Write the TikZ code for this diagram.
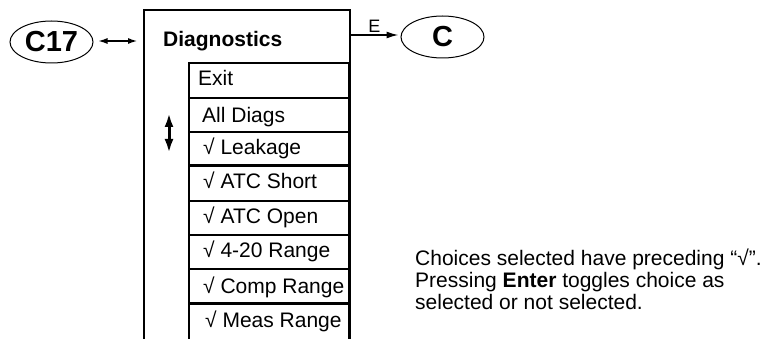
\documentclass[tikz,border=0pt]{standalone}
\usepackage{fontspec}
\setmainfont{Liberation Sans}
\usetikzlibrary{arrows.meta,shapes.geometric}
\begin{document}
\begin{tikzpicture}[x=1pt,y=-1pt,
  txt/.style={anchor=base west,inner sep=0pt,font=\fontsize{21}{22}\selectfont},
  oval/.style={draw,ellipse,line width=1pt,minimum width=83pt,minimum height=42pt,inner sep=0pt,font=\fontsize{29}{30}\selectfont\bfseries},
  boxline/.style={line width=2pt},
  thickline/.style={line width=3pt}]
\useasboundingbox (0,0) rectangle (767,339);
% ovals
\node[oval] (c17) at (51.5,42) {C17};
\node[oval] (c) at (442.5,37) {C};
% outer box
\coordinate (obl) at (144,339);
\coordinate (otl) at (144,10);
\coordinate (otr) at (350,10);
\coordinate (obr) at (350,339);
\draw[boxline] (obl) -- (otl) -- (otr) -- (obr);
\coordinate (inl) at (144,41);
\coordinate (outr) at (350,35);
% connectors
\draw[line width=2pt,{Latex[length=10pt,width=6pt]}-{Latex[length=10pt,width=6pt]}] ([xshift=4pt]c17.east |- inl) -- ([xshift=-6pt]inl);
\draw[line width=1.5pt,-{Latex[length=12pt,width=7pt]}] (outr) -- ([xshift=-2pt]c.west |- outr) node[pos=0.5,above=2pt,inner sep=0pt,font=\fontsize{18}{18}\selectfont] (elabel) {E};
% header
\node[txt,font=\fontsize{21}{22}\selectfont\bfseries] (diag) at (163,47) {Diagnostics};
% item column
\draw[boxline] (189,339) -- (189,63) -- (349,63) -- (349,339);
\draw[boxline] (189,98) -- (349,98);
\draw[boxline] (189,132) -- (349,132);
\draw[thickline] (189,165) -- (349,165);
\draw[boxline] (189,201) -- (349,201);
\draw[boxline] (189,235) -- (349,235);
\draw[boxline] (189,269) -- (349,269);
\draw[thickline] (189,303) -- (349,303);
\node[txt] (exit) at (198,86) {Exit};
\node[txt] (all) at (202,123) {All Diags};
\node[txt] (leak) at (203,155) {√ Leakage};
\node[txt] (short) at (203,188) {√ ATC Short};
\node[txt] (open) at (203,223) {√ ATC Open};
\node[txt] (range) at (203,257) {√ 4-20 Range};
\node[txt] (comp) at (203,293) {√ Comp Range};
\node[txt] (meas) at (205,327) {√ Meas Range};
% scroll arrow
\coordinate (sa) at (169,113);
\coordinate (sb) at (169,153);
\draw[line width=3pt,{Latex[length=14pt,width=9pt]}-{Latex[length=14pt,width=9pt]}] (sa) -- (sb);
% note
\node[txt] (n1) at (415,265) {Choices selected have preceding “√”.};
\node[txt] (n2) at (415,287) {Pressing \textbf{Enter} toggles choice as};
\node[txt] (n3) at (415,309) {selected or not selected.};
\end{tikzpicture}
\end{document}
